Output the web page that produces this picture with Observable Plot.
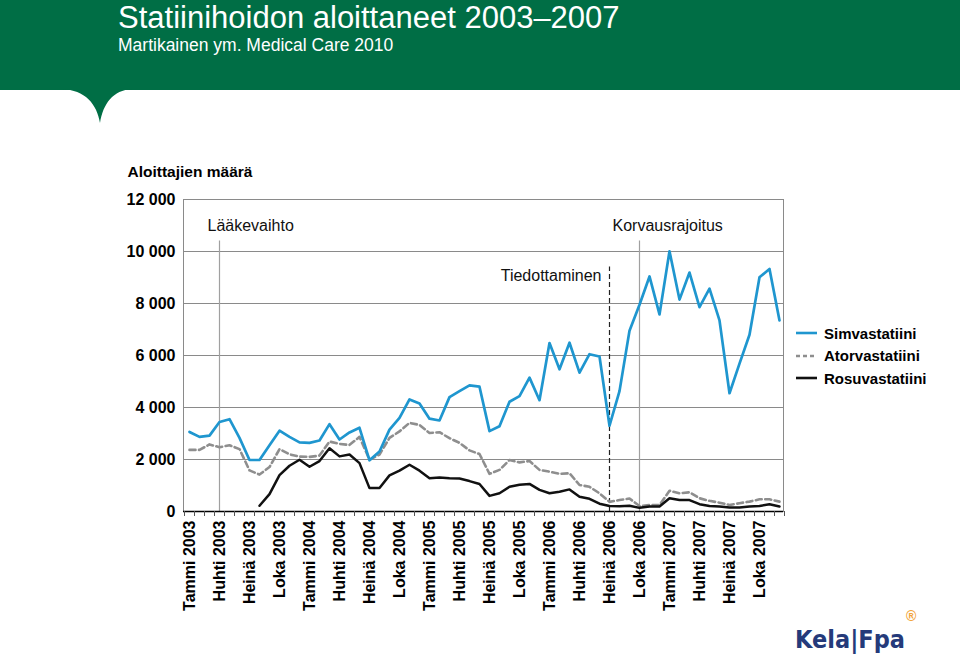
<!DOCTYPE html>
<html>
<head>
<meta charset="utf-8">
<script src="https://cdn.jsdelivr.net/npm/d3@7"></script>
<script src="https://cdn.jsdelivr.net/npm/@observablehq/plot@0.6"></script>
<style>
  html, body { margin: 0; padding: 0; background: #fff; }
  body { width: 960px; height: 656px; position: relative; overflow: hidden; font-family: "Liberation Sans", Arial, sans-serif; }
  #chart { position: absolute; left: 0; top: 0; }
  #header { position: absolute; left: 0; top: 0; }
  #legend { position: absolute; left: 796px; top: 322px; font-weight: bold; font-size: 15px; color: #000; }
  #legend .row { display: flex; align-items: center; height: 22.5px; }
  #legend svg { margin-right: 7px; }
  #logo { position: absolute; left: 790px; top: 604px; }
</style>
</head>
<body>
<div id="chart"></div>
<svg id="header" width="960" height="130">
  <rect x="0" y="0" width="960" height="90" fill="#006e45"/>
  <path d="M62,89 C85,90 97,104 100,123 C103,104 113,90 132,89 Z" fill="#006e45"/>
  <text x="118" y="28.3" fill="#fff" font-size="31" font-family="Liberation Sans, Arial, sans-serif">Statiinihoidon aloittaneet 2003–2007</text>
  <text x="118" y="51" fill="#fff" font-size="17.5" font-family="Liberation Sans, Arial, sans-serif">Martikainen ym. Medical Care 2010</text>
</svg>
<div id="legend"></div>
<svg id="logo" width="150" height="52">
  <text x="5" y="44" fill="#253a7a" font-size="25" font-weight="bold" font-family="DejaVu Sans Condensed, sans-serif">Kela|Fpa</text>
  <text x="116" y="17" fill="#f2a43a" font-size="14" font-weight="bold" font-family="Liberation Sans, sans-serif">®</text>
</svg>
<script>
// Month tick labels (every third month, Jan 2003 – Oct 2007)
const tickLabels = [
  "Tammi 2003","Huhti 2003","Heinä 2003","Loka 2003",
  "Tammi 2004","Huhti 2004","Heinä 2004","Loka 2004",
  "Tammi 2005","Huhti 2005","Heinä 2005","Loka 2005",
  "Tammi 2006","Huhti 2006","Heinä 2006","Loka 2006",
  "Tammi 2007","Huhti 2007","Heinä 2007","Loka 2007"
];

// Monthly starters, Jan 2003 – Dec 2007 (60 months)
const simvastatiini = [
  3060,2870,2920,3440,3550,2830,1980,1980,2550,3110,
  2870,2660,2640,2730,3360,2770,3040,3220,1970,2310,
  3150,3600,4310,4150,3570,3500,4400,4630,4850,4800,
  3090,3280,4220,4440,5150,4280,6480,5470,6490,5340,
  6050,5960,3300,4630,6950,7950,9040,7580,10010,8150,
  9190,7860,8570,7350,4550,5690,6800,9010,9330,7350
];
const atorvastatiini = [
  2370,2370,2580,2470,2550,2400,1580,1420,1710,2400,
  2200,2110,2100,2150,2690,2600,2560,2870,1990,2190,
  2830,3080,3410,3330,3020,3050,2820,2640,2350,2210,
  1450,1600,1980,1890,1940,1600,1530,1450,1470,1020,
  950,700,370,440,500,210,250,250,800,700,
  740,510,410,340,250,320,380,470,470,380
];
const rosuvastatiini = [
  null,null,null,null,null,null,null,220,670,1400,
  1760,1990,1720,1940,2430,2120,2190,1860,900,900,
  1390,1570,1800,1570,1280,1310,1280,1270,1170,1060,
  600,700,950,1030,1060,830,700,760,850,570,
  490,300,210,200,220,140,190,190,510,440,
  440,280,210,190,150,150,190,210,280,190
];

const seriesNames = ["Simvastatiini","Atorvastatiini","Rosuvastatiini"];
const yTicks = [0,2000,4000,6000,8000,10000,12000];

// Event annotations (month index)
const eventNames = ["Lääkevaihto","Tiedottaminen","Korvausrajoitus"];
const eventMonth = [3, 42, 45];

const blue = "#1f96cf", gray = "#8e8e8e", black = "#111";
const font = "Liberation Sans, Arial, sans-serif";

const plot = Plot.plot({
  width: 960,
  height: 656,
  marginLeft: 183,
  marginRight: 177,
  marginTop: 199,
  marginBottom: 145,
  style: { fontFamily: font, background: "transparent", color: "#000", overflow: "visible" },
  x: { type: "linear", domain: [-0.6, 59.4] },
  y: { domain: [0, 12000] },
  marks: [
    Plot.gridY(yTicks.slice(1), { stroke: "#8a8a8a", strokeOpacity: 1, strokeWidth: 1 }),
    Plot.frame({ stroke: "#8a8a8a", strokeWidth: 1 }),
    // event lines
    Plot.ruleX([eventMonth[0]], { y1: 0, y2: 10400, stroke: "#a0a0a0", strokeWidth: 1.2 }),
    Plot.ruleX([eventMonth[2]], { y1: 0, y2: 10400, stroke: "#a0a0a0", strokeWidth: 1.2 }),
    Plot.ruleX([eventMonth[1]], { y1: 0, y2: 9400, stroke: "#222", strokeWidth: 1.2, strokeDasharray: "5,3" }),
    Plot.text([eventNames[0]], { x: 1.8, y: 11000, text: d => d, textAnchor: "start", fontSize: 16, fill: "#111" }),
    Plot.text([eventNames[1]], { x: 41.2, y: 9070, text: d => d, textAnchor: "end", fontSize: 16, fill: "#111" }),
    Plot.text([eventNames[2]], { x: 42.3, y: 11000, text: d => d, textAnchor: "start", fontSize: 16, fill: "#111" }),
    // series
    Plot.lineY(atorvastatiini, { stroke: gray, strokeWidth: 2.6, strokeDasharray: "6,3.5" }),
    Plot.lineY(rosuvastatiini, { stroke: black, strokeWidth: 2.5 }),
    Plot.lineY(simvastatiini, { stroke: blue, strokeWidth: 2.7 }),
    Plot.ruleY([0], { stroke: "#000", strokeWidth: 1.3 }),
    // axes
    Plot.axisY({
      ticks: yTicks, tickSize: 0, tickPadding: 8, label: null,
      tickFormat: d => d3.format(",")(d).replace(",", " "),
      fontWeight: "bold", fontSize: 16
    }),
    Plot.axisX({
      ticks: d3.range(-0.5, 60, 1), tickSize: 5, tickFormat: () => "", label: null, stroke: "#555"
    }),
    Plot.axisX({
      ticks: d3.range(0, 60, 3), tickSize: 0, tickPadding: 9, tickRotate: -90, label: null,
      tickFormat: i => tickLabels[i / 3], fontWeight: "bold", fontSize: 16
    }),
    Plot.text(["Aloittajien määrä"], {
      x: -0.6, y: 12000, text: d => d, textAnchor: "start", dx: -56, dy: -27,
      fontWeight: "bold", fontSize: 15.5, fill: "#000"
    })
  ]
});
document.getElementById("chart").appendChild(plot);

// Legend
const legendStyles = [
  { stroke: blue, dash: null },
  { stroke: gray, dash: "4,3" },
  { stroke: black, dash: null }
];
const legend = document.getElementById("legend");
seriesNames.forEach((name, i) => {
  const row = document.createElement("div");
  row.className = "row";
  const s = legendStyles[i];
  row.innerHTML = `<svg width="21" height="6"><line x1="0" y1="3" x2="21" y2="3" stroke="${s.stroke}" stroke-width="2.6" ${s.dash ? `stroke-dasharray="${s.dash}"` : ""}/></svg><span>${name}</span>`;
  legend.appendChild(row);
});
</script>
</body>
</html>
